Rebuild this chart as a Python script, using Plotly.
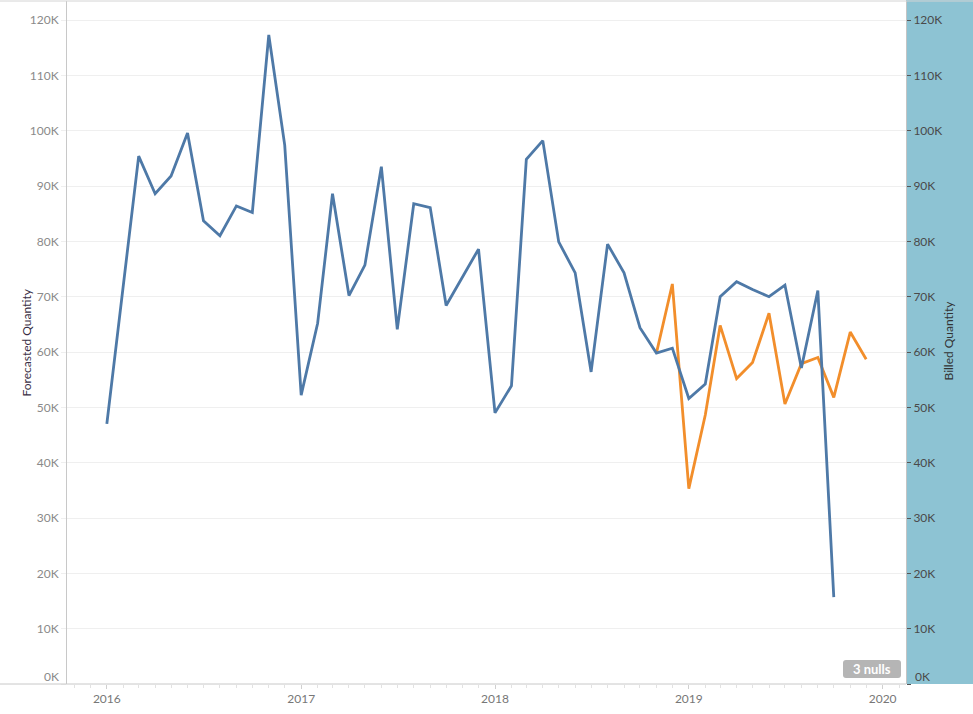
import pandas as pd
import plotly.graph_objects as go

# ---- data (values in units) ----
billed_months = list(pd.date_range("2016-01-01", "2019-10-01", freq="MS"))
billed_qty = [
    47000, 71500, 95400, 88600, 91800, 99600, 83700, 81000, 86400, 85200, 117300, 97400,
    52200, 65200, 88600, 70200, 75700, 93500, 64100, 86800, 86100, 68400, 73600, 78600,
    49000, 53900, 94800, 98200, 79900, 74300, 56400, 79500, 74300, 64400, 59800, 60700,
    51600, 54200, 70000, 72700, 71300, 70000, 72100, 57100, 71100, 15700,
]
forecast_months = list(pd.date_range("2018-11-01", "2019-12-01", freq="MS"))
forecast_qty = [59800, 72300, 35300, 48600, 64800, 55200, 58100, 67000, 50600, 57900,
                59000, 51800, 63600, 58700]

year_ticks = ["2016-01-01", "2017-01-01", "2018-01-01", "2019-01-01", "2020-01-01"]
year_labels = ["2016", "2017", "2018", "2019", "2020"]
y_ticks = [0, 10000, 20000, 30000, 40000, 50000, 60000, 70000, 80000, 90000, 100000, 110000, 120000]
y_labels = ["", "10K", "20K", "30K", "40K", "50K", "60K", "70K", "80K", "90K", "100K", "110K", "120K"]
null_note = "3 nulls"

# ---- layout geometry ----
W, H = 973, 714
L, R, T, B = 67, 67, 1, 30
PW, PH = W - L - R, H - T - B
Y_MAX = 123434
X_RANGE = ["2015-10-18", "2020-02-14"]
FONT = "Lato, 'Open Sans', sans-serif"
BLUE = "#4E79A7"
ORANGE = "#F28E2B"


def px(x):
    return (x - L) / PW


def py(y):
    return (H - B - y) / PH


fig = go.Figure()
fig.add_trace(go.Scatter(x=forecast_months, y=forecast_qty, mode="lines",
                         line=dict(color=ORANGE, width=2.8), name="Forecasted Quantity",
                         yaxis="y"))
fig.add_trace(go.Scatter(x=billed_months, y=billed_qty, mode="lines",
                         line=dict(color=BLUE, width=2.8), name="Billed Quantity",
                         yaxis="y2"))

axis_common = dict(range=[0, Y_MAX], tickmode="array", tickvals=y_ticks, ticktext=y_labels,
                   zeroline=False, fixedrange=True, automargin=False)

fig.update_layout(
    template="none",
    width=W, height=H,
    margin=dict(l=L, r=R, t=T, b=B, pad=0, autoexpand=False),
    paper_bgcolor="white", plot_bgcolor="rgba(0,0,0,0)",
    showlegend=False,
    font=dict(family=FONT, size=12, color="#666"),
    xaxis=dict(type="date", range=X_RANGE, tickmode="array", tickvals=year_ticks,
               ticktext=year_labels, ticks="outside", ticklen=4, tickcolor="#d0d0d0",
               showgrid=False, showline=False, zeroline=False, automargin=False,
               tickfont=dict(color="#777", size=12),
               minor=dict(dtick="M1", tick0="2016-01-01", ticks="outside", ticklen=3,
                          tickcolor="#e2e2e2", showgrid=False)),
    yaxis=dict(**axis_common, side="left", showgrid=True, gridcolor="#efefef", gridwidth=1,
               ticks="outside", ticklen=5, tickcolor="#efefef",
               showline=True, linecolor="#c8c8c8", linewidth=1,
               tickfont=dict(color="#8a8a8a", size=12)),
    yaxis2=dict(**axis_common, side="right", overlaying="y", showgrid=False,
                ticks="outside", ticklen=4, tickcolor="#555",
                showline=True, linecolor="#c4c4c4", linewidth=1,
                tickfont=dict(color="#4a4a4a", size=12)),
)

shapes = [
    # right highlighted axis panel
    dict(type="rect", xref="paper", yref="paper", x0=1, x1=px(W), y0=0, y1=py(0),
         fillcolor="#8DC3D3", line=dict(width=0), layer="below"),
    # top border
    dict(type="line", xref="paper", yref="paper", x0=px(0), x1=px(W), y0=py(1), y1=py(1),
         line=dict(color="#d4d4d4", width=1)),
    # bottom axis line
    dict(type="line", xref="paper", yref="paper", x0=px(0), x1=1, y0=0, y1=0,
         line=dict(color="#c8c8c8", width=1)),
]

# rounded badge for null indicator
bx0, bx1, by0, by1, r = 843, 901, 660, 678, 3
path = (f"M {px(bx0 + r)},{py(by0)} L {px(bx1 - r)},{py(by0)} "
        f"Q {px(bx1)},{py(by0)} {px(bx1)},{py(by0 + r)} L {px(bx1)},{py(by1 - r)} "
        f"Q {px(bx1)},{py(by1)} {px(bx1 - r)},{py(by1)} L {px(bx0 + r)},{py(by1)} "
        f"Q {px(bx0)},{py(by1)} {px(bx0)},{py(by1 - r)} L {px(bx0)},{py(by0 + r)} "
        f"Q {px(bx0)},{py(by0)} {px(bx0 + r)},{py(by0)} Z")
shapes.append(dict(type="path", xref="paper", yref="paper", path=path,
                   fillcolor="#b5b5b5", line=dict(width=0)))
fig.update_layout(shapes=shapes)

annotations = [
    dict(text="Forecasted Quantity", xref="paper", yref="paper", x=px(16), y=py(343),
         textangle=-90, showarrow=False, font=dict(color="#3a2f45", size=12)),
    dict(text="Billed Quantity", xref="paper", yref="paper", x=px(957), y=py(341),
         textangle=-90, showarrow=False, font=dict(color="#333", size=12)),
    dict(text="0K", xref="paper", yref="y", x=px(61), y=0, xanchor="right", yshift=8,
         showarrow=False, font=dict(color="#8a8a8a", size=12)),
    dict(text="0K", xref="paper", yref="y", x=px(913), y=0, xanchor="left", yshift=8,
         showarrow=False, font=dict(color="#4a4a4a", size=12)),
    dict(text=f"<b>{null_note}</b>", xref="paper", yref="paper", x=px(872), y=py(669),
         xanchor="center", yanchor="middle",
         showarrow=False, font=dict(color="white", size=13)),
]
fig.update_layout(annotations=annotations)

fig.write_html("out.html", config={"displayModeBar": False},
               post_script="document.body.style.margin='0';document.body.style.overflow='hidden';")
